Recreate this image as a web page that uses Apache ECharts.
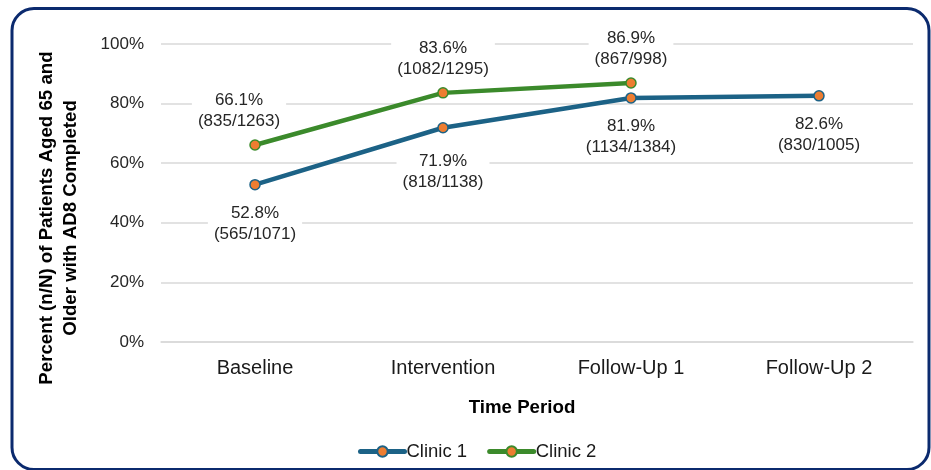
<!DOCTYPE html>
<html>
<head>
<meta charset="utf-8">
<script src="https://cdn.jsdelivr.net/npm/echarts@6/dist/echarts.min.js"></script>
<style>
html,body{margin:0;padding:0;background:#fff;}
#chart{width:931px;height:470px;}
</style>
</head>
<body>
<div id="chart"></div>
<script>
const categories = ['Baseline', 'Intervention', 'Follow-Up 1', 'Follow-Up 2'];
const yTicks = [0, 20, 40, 60, 80, 100];
const clinic1Pct = [52.8, 71.9, 81.9, 82.6];
const clinic1N = ['565/1071', '818/1138', '1134/1384', '830/1005'];
const clinic2Pct = [66.1, 83.6, 86.9, null];
const clinic2N = ['835/1263', '1082/1295', '867/998', null];
const seriesNames = ['Clinic 1', 'Clinic 2'];
const yTitle = ['Percent (n/N) of Patients Aged 65 and', 'Older with AD8 Completed'];
const xTitle = 'Time Period';

const FONT = '"Liberation Sans", Arial, sans-serif';
const C1 = '#1c6286';
const C2 = '#3b8a2b';
const ORANGE = '#ed7d31';

const chart = echarts.init(document.getElementById('chart'), null, {renderer: 'canvas'});

function labelCfg(pos, dist, names, vals) {
  return {
    show: true,
    position: pos,
    distance: dist,
    fontFamily: FONT,
    fontSize: 17,
    lineHeight: 21,
    color: '#262626',
    backgroundColor: '#ffffff',
    padding: [0, 6],
    formatter: function (p) {
      return vals[p.dataIndex].toFixed(1) + '%\n(' + names[p.dataIndex] + ')';
    }
  };
}

const c1Data = clinic1Pct.map(function (v, i) {
  const d = {value: v};
  if (i === 1) d.label = {distance: 17};
  return d;
});
const c2Data = clinic2Pct.map(function (v, i) {
  const d = {value: v};
  if (i === 0) d.label = {offset: [-16, 0]};
  return d;
});

chart.setOption({
  animation: false,
  backgroundColor: '#ffffff',
  grid: {left: 161, right: 18, top: 44, bottom: 128, containLabel: false},
  xAxis: {
    type: 'category',
    data: categories,
    boundaryGap: true,
    axisLine: {show: true, lineStyle: {color: '#d9d9d9', width: 1.5}},
    axisTick: {show: false},
    axisLabel: {fontFamily: FONT, fontSize: 20, color: '#1a1a1a', margin: 16}
  },
  yAxis: {
    type: 'value',
    min: yTicks[0],
    max: yTicks[yTicks.length - 1],
    interval: yTicks[1] - yTicks[0],
    axisLine: {show: false},
    axisTick: {show: false},
    splitLine: {lineStyle: {color: '#d9d9d9', width: 1.5}},
    axisLabel: {fontFamily: FONT, fontSize: 17, color: '#262626', margin: 17, formatter: '{value}%'}
  },
  legend: {
    data: seriesNames,
    left: 353,
    top: 437,
    itemWidth: 44,
    itemHeight: 13,
    itemGap: 20,
    lineStyle: {width: 5, cap: 'round'},
    textStyle: {fontFamily: FONT, fontSize: 18.5, color: '#1a1a1a', padding: [0, 0, 0, -3]}
  },
  series: [
    {
      name: seriesNames[0],
      type: 'line',
      data: c1Data,
      symbol: 'circle',
      symbolSize: 10,
      lineStyle: {color: C1, width: 4.5, cap: 'round'},
      itemStyle: {color: ORANGE, borderColor: C1, borderWidth: 1.5},
      label: labelCfg('bottom', 12, clinic1N, clinic1Pct),
      z: 3
    },
    {
      name: seriesNames[1],
      type: 'line',
      data: c2Data,
      symbol: 'circle',
      symbolSize: 10,
      lineStyle: {color: C2, width: 4.5, cap: 'round'},
      itemStyle: {color: ORANGE, borderColor: C2, borderWidth: 1.5},
      label: labelCfg('top', 7, clinic2N, clinic2Pct),
      z: 3
    }
  ],
  graphic: [
    {
      type: 'rect',
      shape: {x: 12, y: 8.5, width: 917, height: 461, r: 22},
      style: {fill: 'none', stroke: '#0b2a6e', lineWidth: 3},
      silent: true,
      z: 100
    },
    {
      type: 'text',
      x: 59,
      y: 218,
      rotation: Math.PI / 2,
      style: {
        text: yTitle.join('\n'),
        font: 'bold 18.7px ' + FONT,
        fill: '#000000',
        align: 'center',
        verticalAlign: 'middle',
        lineHeight: 24
      },
      silent: true
    },
    {
      type: 'text',
      x: 522,
      y: 408,
      style: {
        text: xTitle,
        font: 'bold 18.7px ' + FONT,
        fill: '#000000',
        align: 'center',
        verticalAlign: 'middle'
      },
      silent: true
    }
  ]
});
</script>
</body>
</html>
